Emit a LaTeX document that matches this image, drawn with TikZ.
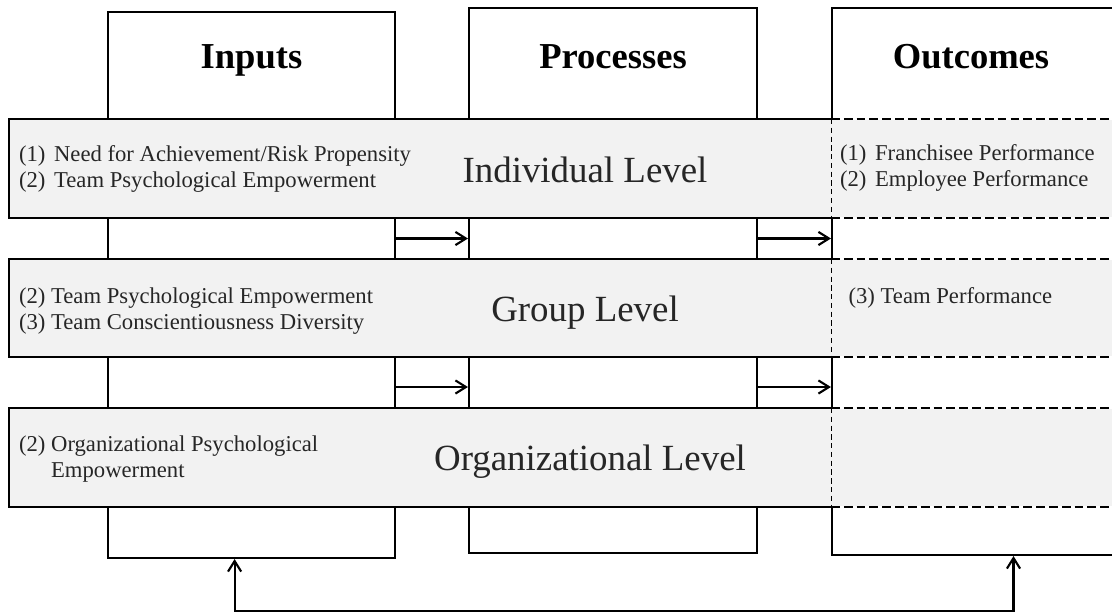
\documentclass[tikz,border=0pt]{standalone}
\usepackage{fontspec}
\setmainfont{Liberation Serif}
\usepackage{tikz}
\usetikzlibrary{arrows.meta}
\definecolor{bandgray}{HTML}{F2F2F2}
\newcommand{\pxu}{0.02cm}
\newcommand{\itemgap}{\hspace{0.38em}}

\begin{document}
\begin{tikzpicture}[x=0.02cm,y=-0.02cm,line width=1.2pt,
	colbox/.style={draw,fill=white,inner sep=0pt,minimum width=288*\pxu},
	bandbox/.style={fill=bandgray,inner sep=0pt,minimum width=1120*\pxu},
	headtxt/.style={font=\fontsize{20.8}{24}\selectfont\bfseries,anchor=base},
	leveltxt/.style={font=\fontsize{21}{25}\selectfont,text=black!85,anchor=base},
	itemtxt/.style={font=\fontsize{12.9}{14.8}\selectfont,text=black!85,align=left,inner sep=0pt},
	dashln/.style={dash pattern=on 5pt off 2.3pt},
	thindash/.style={line width=0.5pt,dash pattern=on 3pt off 2pt},
	arr/.style={-{Straight Barb[length=6pt,width=7.5pt]}},
	arrboth/.style={{Straight Barb[length=6pt,width=7.5pt]}-{Straight Barb[length=6pt,width=7.5pt]}}]
	\useasboundingbox (0,0) rectangle (1112,612);
	\clip (0,0) rectangle (1112,612);

	\node[colbox,minimum width=287*\pxu,minimum height=546*\pxu] (inp) at (251.5,285) {};
	\node[colbox,minimum height=545*\pxu] (proc) at (613,280.5) {};
	\node[colbox,minimum height=547*\pxu] (outc) at (976,281.5) {};
	\node[headtxt] (inphead) at (251.5,68) {Inputs};
	\node[headtxt] (prochead) at (613,68) {Processes};
	\node[headtxt] (outchead) at (971,68) {Outcomes};

	\foreach \name/\yc/\hgt in {ind/168.5/97,grp/308/96,org/457.5/97}{
		\node[bandbox,minimum height=\hgt*\pxu] (\name) at (570,\yc) {};
		\draw (\name.north -| outc.west) -- (\name.north west) -- (\name.south west) -- (\name.south -| outc.west);
		\draw[dashln] (\name.north -| outc.west) -- (\name.north east) (\name.south -| outc.west) -- (\name.south east);
		\draw[thindash] (\name.north -| outc.west) -- (\name.south -| outc.west);
	}

	\node[leveltxt] (indlbl) at (585,182) {Individual Level};
	\node[leveltxt] (grplbl) at (585,321) {Group Level};
	\node[leveltxt] (orglbl) at (590,470) {Organizational Level};

	\node[itemtxt,anchor=west] (indin) at (18,169.3) {(1)\itemgap Need for Achievement/Risk Propensity\\(2)\itemgap Team Psychological Empowerment};
	\node[itemtxt,anchor=west] (grpin) at (18,311) {(2) Team Psychological Empowerment\\(3) Team Conscientiousness Diversity};
	\node[itemtxt,anchor=west] (orgin) at (18,459) {(2) Organizational Psychological\\\hphantom{(2)} Empowerment};
	\node[itemtxt,anchor=west] (indout) at (839,168) {(1)\itemgap Franchisee Performance\\(2)\itemgap Employee Performance};
	\node[itemtxt,anchor=base west] (grpout) at (847.5,303) {(3) Team Performance};

	\coordinate (gap1) at (0,238.5);
	\coordinate (gap2) at (0,387);
	\foreach \g in {gap1,gap2}{
		\draw[arr] (\g -| inp.east) -- (\g -| proc.west);
		\draw[arr] (\g -| proc.east) -- (\g -| outc.west);
	}

	\coordinate (fbl) at (234.6,611);
	\coordinate (fbr) at (1013.5,611);
	\draw[arrboth] (inp.south -| fbl) -- (fbl) -- (fbr) -- (outc.south -| fbr);
\end{tikzpicture}
\end{document}
